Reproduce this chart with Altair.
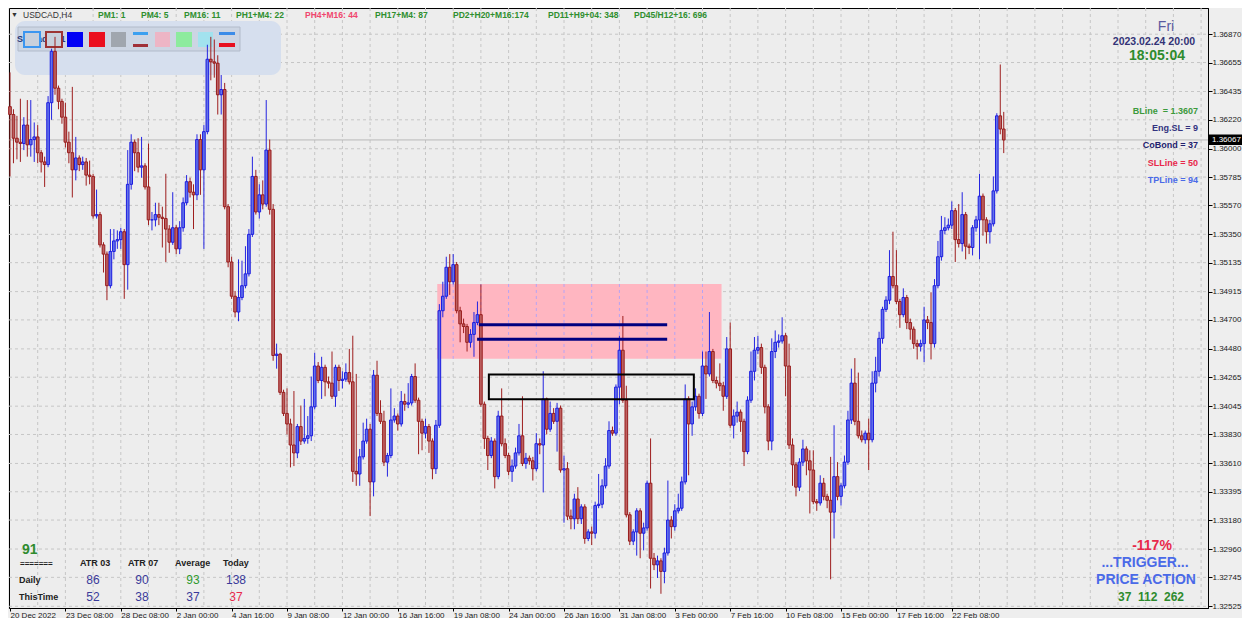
import json
import altair as alt
import pandas as pd

FONT = "Liberation Sans"
W, H = 1199, 600          # plot area size
OX, OY = 9, 8             # page position of the plot origin
BAR_PX = 3.4625           # pixel spacing of H4 bars
FIRST_BAR_PX = 1.0        # pixel offset of bar 0 inside the plot

# ---------------- data (USDCAD H4) ----------------
first_open = 1.3632
closes = [
    1.3626, 1.3608, 1.3605, 1.3604, 1.3618, 1.3603, 1.3607, 1.3609, 1.3597, 1.3590, 1.3588, 1.3635, 1.3674, 1.3646, 1.3636, 1.3624,
    1.3605, 1.3597, 1.3584, 1.3593, 1.3588, 1.3590, 1.3580, 1.3579, 1.3549, 1.3550, 1.3527, 1.3520, 1.3496, 1.3522, 1.3530, 1.3531,
    1.3537, 1.3512, 1.3573, 1.3605, 1.3597, 1.3586, 1.3587, 1.3571, 1.3546, 1.3546, 1.3550, 1.3548, 1.3547, 1.3539, 1.3529, 1.3540,
    1.3524, 1.3540, 1.3559, 1.3575, 1.3567, 1.3565, 1.3607, 1.3584, 1.3613, 1.3668, 1.3666, 1.3665, 1.3641, 1.3645, 1.3556, 1.3514,
    1.3488, 1.3476, 1.3487, 1.3496, 1.3505, 1.3535, 1.3579, 1.3552, 1.3565, 1.3558, 1.3599, 1.3554, 1.3443, 1.3444, 1.3415, 1.3399,
    1.3391, 1.3375, 1.3369, 1.3389, 1.3378, 1.3380, 1.3382, 1.3404, 1.3435, 1.3424, 1.3434, 1.3423, 1.3422, 1.3412, 1.3434, 1.3424,
    1.3425, 1.3430, 1.3423, 1.3355, 1.3353, 1.3366, 1.3378, 1.3387, 1.3347, 1.3428, 1.3399, 1.3393, 1.3362, 1.3367, 1.3394, 1.3397,
    1.3391, 1.3408, 1.3406, 1.3407, 1.3427, 1.3409, 1.3393, 1.3384, 1.3389, 1.3378, 1.3357, 1.3390, 1.3477, 1.3488, 1.3510, 1.3499,
    1.3512, 1.3477, 1.3467, 1.3465, 1.3453, 1.3459, 1.3468, 1.3474, 1.3406, 1.3380, 1.3367, 1.3378, 1.3351, 1.3397, 1.3376, 1.3367,
    1.3355, 1.3359, 1.3369, 1.3382, 1.3361, 1.3365, 1.3363, 1.3357, 1.3376, 1.3375, 1.3410, 1.3387, 1.3399, 1.3393, 1.3403, 1.3356,
    1.3357, 1.3321, 1.3319, 1.3334, 1.3319, 1.3328, 1.3304, 1.3309, 1.3308, 1.3329, 1.3330, 1.3344, 1.3359, 1.3386, 1.3384, 1.3419,
    1.3447, 1.3409, 1.3322, 1.3302, 1.3309, 1.3325, 1.3308, 1.3312, 1.3346, 1.3289, 1.3284, 1.3287, 1.3279, 1.3293, 1.3318, 1.3313,
    1.3325, 1.3327, 1.3347, 1.3410, 1.3391, 1.3404, 1.3412, 1.3399, 1.3435, 1.3429, 1.3446, 1.3424, 1.3422, 1.3420, 1.3412, 1.3448,
    1.3390, 1.3397, 1.3400, 1.3393, 1.3370, 1.3409, 1.3431, 1.3447, 1.3449, 1.3434, 1.3404, 1.3378, 1.3446, 1.3453, 1.3454, 1.3458,
    1.3435, 1.3375, 1.3360, 1.3343, 1.3362, 1.3372, 1.3363, 1.3356, 1.3332, 1.3331, 1.3346, 1.3336, 1.3333, 1.3324, 1.3351, 1.3336,
    1.3344, 1.3362, 1.3394, 1.3422, 1.3393, 1.3382, 1.3379, 1.3384, 1.3379, 1.3422, 1.3431, 1.3456, 1.3478, 1.3485, 1.3503, 1.3496,
    1.3484, 1.3474, 1.3487, 1.3468, 1.3463, 1.3452, 1.3450, 1.3452, 1.3470, 1.3468, 1.3452, 1.3496, 1.3518, 1.3538, 1.3540, 1.3542,
    1.3553, 1.3531, 1.3528, 1.3550, 1.3526, 1.3525, 1.3540, 1.3546, 1.3564, 1.3546, 1.3537, 1.3543, 1.3568, 1.3625, 1.3615, 1.36067,
]
upper_wick_pips = [
    26, 4, 17, 33, 6, 19, 30, 11, 9, 2, 4, 5, 2, 11, 2, 2,
    11, 8, 50, 16, 2, 4, 3, 11, 2, 19, 2, 2, 2, 17, 9, 7,
    3, 2, 26, 6, 2, 11, 22, 2, 33, 6, 9, 9, 8, 34, 3, 27,
    2, 5, 4, 5, 3, 6, 4, 4, 5, 11, 17, 17, 6, 11, 5, 2,
    4, 4, 29, 19, 21, 4, 15, 5, 8, 11, 38, 8, 4, 8, 1, 2,
    19, 4, 41, 2, 16, 30, 15, 23, 10, 3, 8, 2, 4, 24, 2, 2,
    6, 7, 18, 35, 74, 6, 14, 8, 4, 4, 11, 10, 8, 2, 24, 6,
    2, 8, 6, 15, 2, 10, 2, 2, 6, 2, 2, 4, 5, 11, 8, 10,
    8, 2, 3, 4, 2, 4, 8, 10, 23, 2, 2, 3, 2, 4, 21, 4,
    2, 5, 4, 9, 30, 4, 2, 3, 8, 4, 21, 1, 9, 4, 4, 2,
    10, 5, 5, 4, 9, 2, 2, 2, 4, 3, 23, 5, 6, 7, 3, 2,
    11, 26, 11, 2, 2, 2, 2, 4, 2, 34, 4, 4, 2, 4, 30, 3,
    5, 11, 4, 11, 2, 4, 6, 2, 11, 11, 30, 2, 3, 15, 3, 9,
    20, 5, 8, 2, 2, 3, 15, 10, 9, 3, 2, 2, 10, 9, 5, 14,
    2, 17, 5, 2, 3, 7, 2, 8, 15, 2, 6, 4, 2, 33, 39, 11,
    2, 5, 7, 11, 19, 37, 4, 2, 11, 9, 11, 5, 2, 3, 20, 34,
    27, 2, 7, 2, 3, 2, 3, 3, 10, 3, 23, 5, 12, 11, 8, 5,
    7, 2, 27, 17, 2, 2, 2, 3, 17, 2, 2, 3, 11, 2, 39, 13,
]
lower_wick_pips = [
    47, 19, 13, 14, 5, 9, 9, 17, 8, 8, 17, 2, 13, 5, 6, 5,
    4, 8, 21, 8, 5, 4, 8, 6, 2, 2, 2, 14, 11, 2, 6, 6,
    7, 26, 19, 4, 14, 4, 8, 2, 4, 8, 5, 6, 22, 25, 8, 2,
    4, 4, 3, 2, 4, 26, 4, 19, 60, 2, 14, 11, 15, 15, 2, 4,
    2, 4, 7, 2, 2, 2, 2, 2, 5, 4, 2, 4, 4, 10, 2, 2,
    8, 17, 10, 4, 3, 2, 4, 4, 2, 2, 14, 11, 4, 2, 8, 8,
    6, 2, 2, 8, 9, 9, 2, 2, 26, 11, 2, 2, 3, 11, 2, 2,
    5, 2, 5, 3, 2, 2, 25, 13, 4, 9, 8, 4, 2, 5, 2, 10,
    2, 2, 14, 5, 7, 4, 17, 2, 2, 8, 11, 2, 9, 2, 2, 2,
    3, 8, 2, 2, 2, 4, 3, 9, 2, 7, 36, 4, 2, 2, 23, 2,
    40, 3, 8, 8, 4, 4, 4, 2, 9, 4, 2, 3, 2, 2, 2, 2,
    13, 2, 2, 3, 3, 18, 19, 13, 2, 23, 4, 10, 17, 9, 2, 9,
    3, 2, 2, 2, 39, 9, 3, 4, 2, 19, 2, 2, 4, 4, 11, 2,
    2, 10, 5, 8, 11, 2, 2, 7, 3, 5, 5, 7, 7, 5, 4, 2,
    23, 3, 16, 7, 3, 3, 11, 33, 2, 6, 2, 3, 6, 51, 20, 3,
    7, 2, 2, 3, 3, 2, 2, 3, 23, 2, 7, 4, 4, 2, 3, 2,
    2, 10, 2, 5, 8, 4, 10, 4, 14, 5, 12, 3, 2, 3, 3, 2,
    3, 17, 3, 6, 10, 5, 6, 3, 30, 12, 9, 9, 2, 2, 4, 10,
]

x_tick_labels = ["20 Dec 2022", "23 Dec 08:00", "28 Dec 08:00", "2 Jan 00:00", "4 Jan 16:00",
                 "9 Jan 08:00", "12 Jan 00:00", "16 Jan 16:00", "19 Jan 08:00", "24 Jan 00:00",
                 "26 Jan 16:00", "31 Jan 08:00", "3 Feb 00:00", "7 Feb 16:00", "10 Feb 08:00",
                 "15 Feb 00:00", "17 Feb 16:00", "22 Feb 08:00"]
BARS_PER_LABEL = 16
BARS_PER_GRID = 8
price_ticks = [1.32525, 1.32745, 1.32960, 1.33180, 1.33395, 1.33610, 1.33830, 1.34045, 1.34265,
               1.34480, 1.34700, 1.34915, 1.35135, 1.35350, 1.35570, 1.35785, 1.36000, 1.36220,
               1.36435, 1.36655, 1.36870]
price_domain = [1.325121, 1.370691]
bid_price = 1.36067

zone_bars = [123.4, 205.5]
zone_prices = [1.34973, 1.34405]
level_x = [135.4, 134.9]
level_x2 = [189.8, 189.8]
level_price = [1.34664, 1.34554]
box_bars = [138.3, 197.5]
box_prices = [1.34286, 1.34097]

# ---------------- build table ----------------
opens = [first_open] + closes[:-1]
rows = []
for i, (o, c, uw, lw) in enumerate(zip(opens, closes, upper_wick_pips, lower_wick_pips)):
    rows.append(dict(i=i, open=o, close=c,
                     high=max(o, c) + uw * 1e-4, low=min(o, c) - lw * 1e-4,
                     dir="up" if c >= o else "down"))
df = pd.DataFrame(rows)

xs = alt.Scale(domain=[-FIRST_BAR_PX / BAR_PX, (W - FIRST_BAR_PX) / BAR_PX], nice=False, zero=False)
ys = alt.Scale(domain=price_domain, nice=False, zero=False)


def py(price):
    """pixel row of a price inside the plot (for screen-space overlays)"""
    return (price_domain[1] - price) / (price_domain[1] - price_domain[0]) * H


lab_expr = json.dumps(x_tick_labels) + "[round(datum.value/%d)]" % BARS_PER_LABEL
x_axis = alt.Axis(values=list(range(0, len(closes), BARS_PER_LABEL)), labelExpr=lab_expr, title=None,
                  grid=False, tickSize=3, tickColor="black", domainColor="black",
                  labelFont=FONT, labelFontSize=8, labelColor="#1a1a1a", labelAlign="left",
                  labelBaseline="top", labelPadding=0, labelOverlap=False, labelFlush=False)
y_axis = alt.Axis(orient="right", values=price_ticks, format=".5f", title=None, grid=False,
                  tickSize=4, tickColor="black", domainColor="black", labelFont=FONT,
                  labelFontSize=8, labelColor="#1a1a1a", labelPadding=0, labelOverlap=False,
                  labelFlush=False)

# grid
hgrid = alt.Chart(pd.DataFrame({"p": price_ticks})).mark_rule(
    color="#C6C6C6", strokeDash=[3, 3], strokeWidth=1).encode(
    y=alt.Y("p:Q", scale=ys, axis=None), x=alt.value(0), x2=alt.value(W))
grid_bars = list(range(BARS_PER_GRID, int((W - FIRST_BAR_PX) / BAR_PX) + 1, BARS_PER_GRID))
vgrid = alt.Chart(pd.DataFrame({"b": grid_bars})).mark_rule(
    color="#C6C6C6", strokeDash=[3, 3], strokeWidth=1).encode(
    x=alt.X("b:Q", scale=xs, axis=None), y=alt.value(0), y2=alt.value(H))

zone = alt.Chart(pd.DataFrame({"b0": [zone_bars[0]], "b1": [zone_bars[1]],
                               "p0": [zone_prices[0]], "p1": [zone_prices[1]]})).mark_rect(
    color="#FFB6C1").encode(x=alt.X("b0:Q", scale=xs, axis=None), x2="b1:Q",
                            y=alt.Y("p0:Q", scale=ys, axis=None), y2="p1:Q")
zone_dash_bars = [b for b in grid_bars if zone_bars[0] < b < zone_bars[1]]
zone_dash = alt.Chart(pd.DataFrame({"b": zone_dash_bars, "p0": zone_prices[0], "p1": zone_prices[1]})).mark_rule(
    color="#B6A4F4", strokeDash=[3, 3], strokeWidth=1).encode(
    x=alt.X("b:Q", scale=xs, axis=None), y=alt.Y("p0:Q", scale=ys, axis=None), y2="p1:Q")

bid_line = alt.Chart(pd.DataFrame({"p": [bid_price]})).mark_rule(color="#B8B8B8", strokeWidth=1).encode(
    y=alt.Y("p:Q", scale=ys, axis=None), x=alt.value(0), x2=alt.value(W))

dir_dom = ["up", "down"]
wicks = alt.Chart(df).mark_rule(strokeWidth=1).encode(
    x=alt.X("i:Q", scale=xs, axis=x_axis),
    y=alt.Y("low:Q", scale=ys, axis=y_axis), y2="high:Q",
    color=alt.Color("dir:N", scale=alt.Scale(domain=dir_dom, range=["#2424E0", "#9E1E1E"]), legend=None))
bodies = alt.Chart(df).transform_calculate(
    x0="datum.i - 0.38", x1="datum.i + 0.38").mark_rect(strokeWidth=1).encode(
    x=alt.X("x0:Q", scale=xs, axis=None), x2="x1:Q",
    y=alt.Y("open:Q", scale=ys, axis=None), y2="close:Q",
    fill=alt.Fill("dir:N", scale=alt.Scale(domain=dir_dom, range=["#6272EA", "#BD6262"]), legend=None),
    stroke=alt.Stroke("dir:N", scale=alt.Scale(domain=dir_dom, range=["#1C1CE0", "#981C1C"]), legend=None))

levels = alt.Chart(pd.DataFrame({"b0": level_x, "b1": level_x2, "p": level_price})).mark_rule(
    color="#000080", strokeWidth=3).encode(
    x=alt.X("b0:Q", scale=xs, axis=None), x2="b1:Q", y=alt.Y("p:Q", scale=ys, axis=None))
box = alt.Chart(pd.DataFrame({"b0": [box_bars[0]], "b1": [box_bars[1]],
                              "p0": [box_prices[0]], "p1": [box_prices[1]]})).mark_rect(
    fillOpacity=0, stroke="black", strokeWidth=2).encode(
    x=alt.X("b0:Q", scale=xs, axis=None), x2="b1:Q",
    y=alt.Y("p0:Q", scale=ys, axis=None), y2="p1:Q")


# ---------------- overlays in screen pixels ----------------
def px_rects(items, radius=0):
    d = pd.DataFrame(items, columns=["x1", "x2", "y1", "y2", "f", "s", "w"])
    d["x1"] -= OX; d["x2"] -= OX; d["y1"] -= OY; d["y2"] -= OY
    return alt.Chart(d).mark_rect(cornerRadius=radius).encode(
        x=alt.X("x1:Q", scale=None, axis=None), x2="x2:Q",
        y=alt.Y("y1:Q", scale=None, axis=None), y2="y2:Q",
        fill=alt.Fill("f:N", scale=None, legend=None),
        stroke=alt.Stroke("s:N", scale=None, legend=None),
        strokeWidth=alt.StrokeWidth("w:Q", scale=None, legend=None))


def px_texts(items, weight="bold", align="left"):
    d = pd.DataFrame(items, columns=["t", "px", "py", "c", "s"])
    d["px"] -= OX; d["py"] -= OY
    return alt.Chart(d).mark_text(font=FONT, fontWeight=weight, align=align, baseline="middle").encode(
        x=alt.X("px:Q", scale=None, axis=None), y=alt.Y("py:Q", scale=None, axis=None),
        text="t:N", color=alt.Color("c:N", scale=None, legend=None),
        size=alt.Size("s:Q", scale=None, legend=None))


NONE = "rgba(0,0,0,0)"
panel = px_rects([(15, 281, 21, 75, "#D6DFEE", NONE, 0)], radius=10)
panel_inner = px_rects([(18, 240, 27, 51, "#CCD5E3", "#B2BBCA", 1)])
spread_txt = px_texts([("Spread: 1.1 PIP", 17, 39, "#2A3A7A", 9)])
buttons = px_rects([
    (24, 40, 32, 47, "#C8D0DC", "#3C96F0", 2),
    (46, 62, 32, 47, "#C8D0DC", "#9C3434", 2),
    (67, 83, 32, 47, "#0000F5", NONE, 0),
    (89, 105, 32, 47, "#EB0F1E", NONE, 0),
    (111, 126, 32, 47, "#A0A6AE", NONE, 0),
    (133, 148, 32, 35, "#3CA0F0", NONE, 0),
    (133, 148, 44, 47, "#A03038", NONE, 0),
    (155, 170, 32, 47, "#EDB5C5", NONE, 0),
    (176, 192, 32, 47, "#8DEB9E", NONE, 0),
    (198, 213, 32, 47, "#A2E2EE", NONE, 0),
    (219, 235, 32, 35, "#3C8CE8", NONE, 0),
    (219, 235, 43, 47, "#E81020", NONE, 0),
])

GREEN = "#2F8F2F"
NAVY = "#33337F"
RED = "#E8284A"
BLUEL = "#4A6AE8"
header = px_texts([
    ("PM1: 1", 98, 15, GREEN, 8.5), ("PM4: 5", 141, 15, GREEN, 8.5), ("PM16: 11", 184, 15, GREEN, 8.5),
    ("PH1+M4: 22", 236, 15, GREEN, 8.5), ("PH4+M16: 44", 305, 15, "#F0466E", 8.5),
    ("PH17+M4: 87", 375, 15, GREEN, 8.5), ("PD2+H20+M16:174", 453, 15, GREEN, 8.5),
    ("PD11+H9+04: 348", 548, 15, GREEN, 8.5), ("PD45/H12+16: 696", 634, 15, GREEN, 8.5),
])
symbol = px_texts([("\u25BC", 11, 15, "#333333", 7), ("USDCAD,H4", 23, 15, "#333333", 8.5)], weight="normal")

clock_fri = px_texts([("Fri", 1166, 27, "#5A5AA0", 14)], weight="normal", align="center")
clock = px_texts([("2023.02.24 20:00", 1154, 42, "#333377", 10.5),
                  ("18:05:04", 1157, 56, "#2E8B2E", 14)], align="center")
side_list = px_texts([
    ("BLine\u00a0\u00a0= 1.3607", 1198, 111, "#3C9A3C", 9), ("Eng.SL = 9", 1198, 128, NAVY, 9),
    ("CoBond = 37", 1198, 145, "#22226E", 9), ("SLLine = 50", 1198, 163, RED, 9),
    ("TPLine = 94", 1198, 180, BLUEL, 9)], align="right")

atr_head = px_texts([
    ("91", 22, 550, "#2E8B2E", 14), ("=======", 20, 564, "#222222", 8),
    ("ATR 03", 80, 563, "#222222", 9), ("ATR 07", 128, 563, "#222222", 9),
    ("Average", 175, 563, "#222222", 9), ("Today", 223, 563, "#222222", 9),
    ("Daily", 19, 580, "#222222", 9), ("ThisTime", 19, 597, "#222222", 9)])
atr_vals = px_texts([
    ("86", 93, 580, "#3A3A9A", 12), ("90", 142, 580, "#3A3A9A", 12), ("93", 193, 580, "#2E9A2E", 12),
    ("138", 236, 580, "#3A3A9A", 12), ("52", 93, 597, "#3A3A9A", 12), ("38", 142, 597, "#3A3A9A", 12),
    ("37", 193, 597, "#3A3A9A", 12), ("37", 236, 597, RED, 12)], weight="normal", align="center")

signal = px_texts([
    ("-117%", 1152, 546, RED, 14), ("...TRIGGER...", 1145, 563, BLUEL, 14),
    ("PRICE ACTION", 1146, 580, BLUEL, 14),
    ("37\u00a0\u00a0112\u00a0\u00a0262", 1151, 597, "#2E8B2E", 12)], align="center")

AXIS_X = OX + W
bid_y = py(bid_price) + OY
bid_box = px_rects([(AXIS_X + 1, AXIS_X + 34, bid_y - 5.5, bid_y + 5, "#000000", NONE, 0)])
bid_txt = px_texts([("1.36067", AXIS_X + 4, bid_y, "#FFFFFF", 8)], weight="normal")

chart = alt.layer(
    hgrid, vgrid, zone, zone_dash, panel, panel_inner, spread_txt, buttons, bid_line,
    wicks, bodies, levels, box,
    header, symbol, clock_fri, clock, side_list, atr_head, atr_vals, signal, bid_box, bid_txt,
).resolve_scale(x="independent", y="independent").properties(
    width=W, height=H, background="#EEEEEE",
    padding={"left": 1, "top": 0, "right": 1234 - 1 - W, "bottom": 10},
    autosize=alt.AutoSizeParams(type="none"),
).configure_view(stroke="black", strokeWidth=1, fill="#EDEDED")

chart.save("out.html", embed_options={"renderer": "svg", "actions": False})
